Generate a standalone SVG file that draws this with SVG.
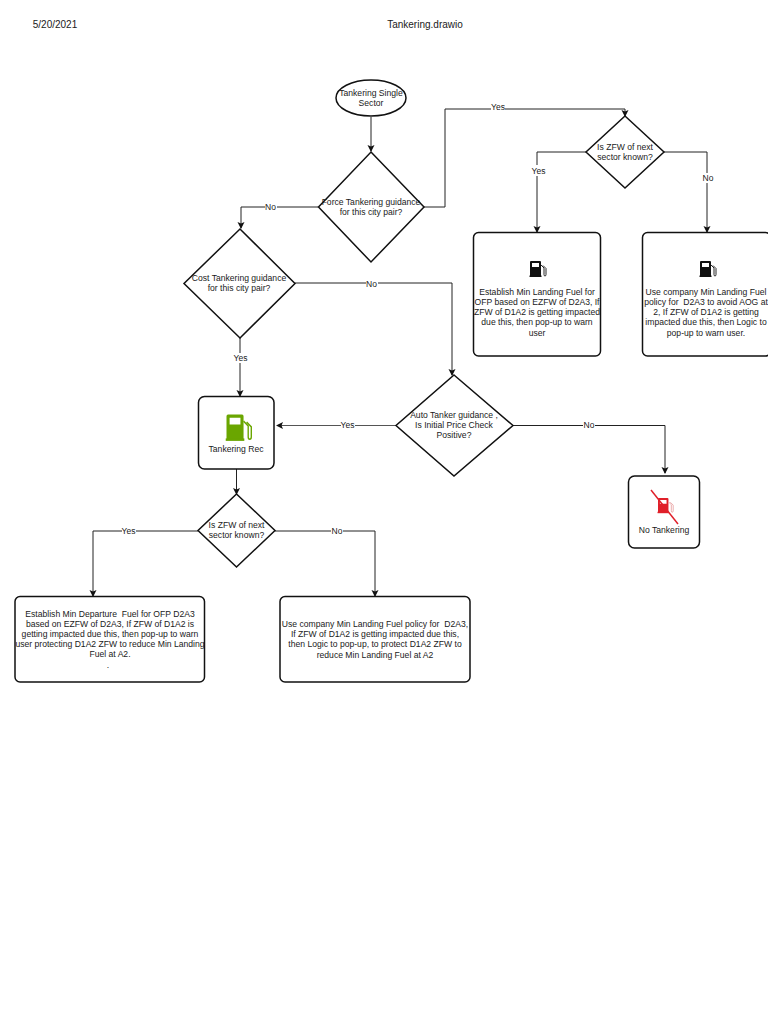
<svg xmlns="http://www.w3.org/2000/svg" width="768" height="1024" viewBox="0 0 768 1024">
<style>
text{font-family:"Liberation Sans",Arial,sans-serif;font-size:8.6px;fill:#1a1a1a;text-anchor:middle;white-space:pre}
.s{fill:#fff;stroke:#111;stroke-width:1.5}
.c{fill:none;stroke:#222;stroke-width:1}
.t{fill:none;stroke:#555;stroke-width:1}
.l{fill:#fff;stroke:none}
.h{font-size:10px}
.lab{font-size:8.5px}
</style>
<defs>
<marker id="a" markerWidth="8" markerHeight="8" refX="6" refY="3.5" orient="auto" markerUnits="userSpaceOnUse"><path d="M0 0L7 3.5L0 7L1.5 3.5Z" fill="#111"/></marker>
<g id="pump"><path d="M1 0h9q1 0 1 1v14h-11v-14q0-1 1-1Z M2 2v4h7v-4Z" fill-rule="evenodd"/><rect x="-0.500" y="14.500" width="12" height="1.500"/><path d="M11 4l3 3v6.500q0 1.500 1 1.500t1-1.500v-6l-3-3" fill="none" stroke="currentColor" stroke-width="0.900"/></g>
</defs>
<text class="h" x="55" y="28">5/20/2021</text>
<text class="h" x="425" y="28">Tankering.drawio</text>
<g id="connectors">
<path class="c" d="M371 117V151" marker-end="url(#a)"/>
<path class="c" d="M424 207H445V109H625V116" marker-end="url(#a)"/>
<path class="c" d="M318 207H241V228" marker-end="url(#a)"/>
<path class="c" d="M586 152H537V232" marker-end="url(#a)"/>
<path class="c" d="M664 152H707V232" marker-end="url(#a)"/>
<path class="c" d="M240 338V396" marker-end="url(#a)"/>
<path class="c" d="M295 283H452V375" marker-end="url(#a)"/>
<path class="t" d="M396 425.500H277" marker-end="url(#a)"/>
<path class="c" d="M513 425.500H665V473" marker-end="url(#a)"/>
<path class="c" d="M236.500 469V494" marker-end="url(#a)"/>
<path class="c" d="M198 531H93V596" marker-end="url(#a)"/>
<path class="c" d="M275 531H375V596" marker-end="url(#a)"/>
<rect class="l" x="491" y="103" width="14" height="11"/><text class="lab" x="498" y="110">Yes</text>
<rect class="l" x="265" y="202" width="12" height="10"/><text class="lab" x="270.500" y="209.500">No</text>
<rect class="l" x="531" y="165" width="14" height="11"/><text class="lab" x="538.500" y="174">Yes</text>
<rect class="l" x="702" y="173" width="12" height="10"/><text class="lab" x="708" y="181">No</text>
<rect class="l" x="233" y="353" width="14" height="10"/><text class="lab" x="240.500" y="361">Yes</text>
<rect class="l" x="366" y="280" width="12" height="7"/><text class="lab" x="371.500" y="287">No</text>
<rect class="l" x="341" y="421" width="14" height="9"/><text class="lab" x="347.500" y="428">Yes</text>
<rect class="l" x="583" y="421" width="12" height="9"/><text class="lab" x="589" y="428">No</text>
<rect class="l" x="122" y="527" width="14" height="8"/><text class="lab" x="128.500" y="534">Yes</text>
<rect class="l" x="331" y="527" width="12" height="8"/><text class="lab" x="337" y="534">No</text>
</g>
<g id="start"><ellipse class="s" cx="371" cy="98" rx="35" ry="18"/><text x="371" y="96">Tankering Single</text><text x="371" y="106">Sector</text></g>
<g id="force"><path class="s" d="M371 152L424 207L371 262L318.500 207Z"/><text x="371" y="205">Force Tankering guidance</text><text x="371" y="215">for this city pair?</text></g>
<g id="cost"><path class="s" d="M240 229L295 283.500L240 338L184 283.500Z"/><text x="239" y="281">Cost Tankering guidance</text><text x="239" y="291">for this city pair?</text></g>
<g id="auto"><path class="s" d="M454 375L513 425.500L454 476L396 425.500Z"/><text x="454" y="418">Auto Tanker guidance ,</text><text x="454" y="428">Is Initial Price Check</text><text x="454" y="438">Positive?</text></g>
<g id="zfw1"><path class="s" d="M625 116L664 152L625 188L586 152Z"/><text x="625" y="150">Is ZFW of next</text><text x="625" y="160">sector known?</text></g>
<g id="zfw2"><path class="s" d="M236.500 494L275 530.500L236.500 567L198 530.500Z"/><text x="236.500" y="528">Is ZFW of next</text><text x="236.500" y="538">sector known?</text></g>
<g id="box1"><rect class="s" x="473.500" y="232.500" width="127" height="123.500" rx="5"/><use href="#pump" x="530" y="261" color="#111" fill="#111"/><text x="537" y="295">Establish Min Landing Fuel for</text><text x="537" y="305">OFP based on EZFW of D2A3, If</text><text x="537" y="315">ZFW of D1A2 is getting impacted</text><text x="537" y="325">due this, then pop-up to warn</text><text x="537" y="336">user</text></g>
<g id="box2"><rect class="s" x="642.500" y="232.500" width="128" height="123.500" rx="5"/><use href="#pump" x="700" y="261" color="#111" fill="#111"/><text x="706" y="295">Use company Min Landing Fuel</text><text x="706" y="305">policy for  D2A3 to avoid AOG at</text><text x="706" y="315">2, If ZFW of D1A2 is getting</text><text x="706" y="325">impacted due this, then Logic to</text><text x="706" y="336">pop-up to warn user.</text></g>
<g id="rec"><rect class="s" x="198.500" y="396.500" width="75.500" height="72.500" rx="6"/><use href="#pump" transform="translate(226.500 414.500) scale(1.55 1.65)" color="#6aa600" fill="#6aa600"/><text x="236" y="452">Tankering Rec</text></g>
<g id="none"><rect class="s" x="628.500" y="476" width="71" height="72" rx="6"/><use href="#pump" transform="translate(658 498) scale(0.95 0.95)" color="#e8a0a0" fill="#e0202a"/><path d="M651 490L678 524" stroke="#e0202a" stroke-width="1.500"/><text x="664" y="533">No Tankering</text></g>
<g id="box3"><rect class="s" x="15" y="596.500" width="189.500" height="85.500" rx="5"/><text x="110" y="617">Establish Min Departure  Fuel for OFP D2A3</text><text x="110" y="627">based on EZFW of D2A3, If ZFW of D1A2 is</text><text x="110" y="637">getting impacted due this, then pop-up to warn</text><text x="110" y="647">user protecting D1A2 ZFW to reduce Min Landing</text><text x="110" y="657">Fuel at A2.</text><text x="108" y="668">.</text></g>
<g id="box4"><rect class="s" x="280" y="596.500" width="190" height="85.500" rx="5"/><text x="375" y="627">Use company Min Landing Fuel policy for  D2A3,</text><text x="375" y="637">If ZFW of D1A2 is getting impacted due this,</text><text x="375" y="647">then Logic to pop-up, to protect D1A2 ZFW to</text><text x="375" y="658">reduce Min Landing Fuel at A2</text></g>
</svg>
